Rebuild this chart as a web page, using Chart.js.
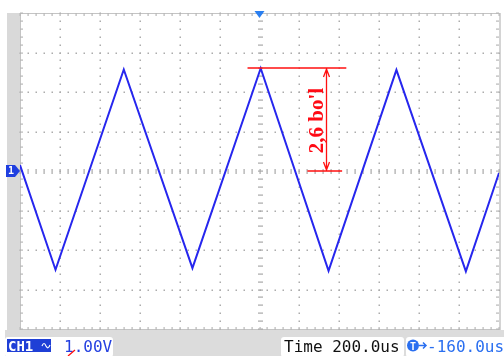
<!DOCTYPE html>
<html>
<head>
<meta charset="utf-8">
<script src="https://cdn.jsdelivr.net/npm/chart.js@4/dist/chart.umd.min.js"></script>
<style>
  html, body { margin: 0; padding: 0; background: #ffffff; }
  canvas { display: block; }
</style>
</head>
<body>
<canvas id="scope" width="504" height="356"></canvas>
<script>
// Triangle wave on CH1: vertices of the trace (time in µs, relative to screen centre; volts)
const timeUs = [-1200, -1022, -680, -336, 6, 346, 686, 1034, 1200];
const volts  = [0.15, -2.50, 2.57, -2.46, 2.6, -2.53, 2.56, -2.54, -0.05];

// Screen settings
const usPerDiv = 200;
const voltPerDiv = 1;
const divsX = 12;
const divsY = 8;

// Measured amplitude (in divisions) marked on the screen
const amplitudeDivs = 2.6;
const amplitudeLabel = "2,6 bo'l";

// Readout texts in the status bar
const chLabel = 'CH1';
const voltLabel = '1.00V';
const timeLabel = 'Time 200.0us';
const trigLabel = '-160.0us';

const points = timeUs.map((t, i) => ({ x: t, y: volts[i] }));

const halfX = divsX / 2 * usPerDiv;
const halfY = divsY / 2 * voltPerDiv;

const MONO = '"DejaVu Sans Mono", "Liberation Mono", monospace';

function roundRect(ctx, x, y, w, h, r) {
  ctx.beginPath();
  ctx.moveTo(x + r, y);
  ctx.lineTo(x + w - r, y);
  ctx.quadraticCurveTo(x + w, y, x + w, y + r);
  ctx.lineTo(x + w, y + h - r);
  ctx.quadraticCurveTo(x + w, y + h, x + w - r, y + h);
  ctx.lineTo(x + r, y + h);
  ctx.quadraticCurveTo(x, y + h, x, y + h - r);
  ctx.lineTo(x, y + r);
  ctx.quadraticCurveTo(x, y, x + r, y);
  ctx.closePath();
}

// Frame, graticule and status bar drawn under the trace
const graticule = {
  id: 'graticule',
  beforeDatasetsDraw(chart) {
    const ctx = chart.ctx;
    const xs = chart.scales.x, ys = chart.scales.y;
    const a = chart.chartArea;
    ctx.save();

    ctx.fillStyle = '#ffffff';
    ctx.fillRect(0, 0, chart.width, chart.height);

    // left grey strip and bottom status band
    ctx.fillStyle = '#d9d9d9';
    ctx.fillRect(7, a.top, a.left - 7, a.bottom - a.top + 1);
    ctx.fillStyle = '#dcdcdc';
    ctx.fillRect(5, a.bottom + 1, chart.width - 5, chart.height - a.bottom);
    // right edge strip
    ctx.fillStyle = '#d4d4d4';
    ctx.fillRect(a.right, a.top, 2, a.bottom - a.top + 1);

    // border lines
    ctx.strokeStyle = '#c4c4c4';
    ctx.lineWidth = 1;
    ctx.beginPath();
    ctx.moveTo(a.left, Math.round(a.top) + 0.5); ctx.lineTo(a.right, Math.round(a.top) + 0.5);
    ctx.moveTo(a.left, Math.round(a.bottom) + 0.5); ctx.lineTo(a.right, Math.round(a.bottom) + 0.5);
    ctx.moveTo(Math.round(a.left) + 0.5, a.top); ctx.lineTo(Math.round(a.left) + 0.5, a.bottom);
    ctx.stroke();

    const minorX = usPerDiv / 5, minorY = voltPerDiv / 5;

    // dotted grid lines
    ctx.fillStyle = '#acacac';
    for (let i = -divsX / 2 + 1; i < divsX / 2; i++) {
      if (i === 0) continue;
      const x = Math.round(xs.getPixelForValue(i * usPerDiv));
      for (let j = -divsY * 5 / 2; j <= divsY * 5 / 2; j++) {
        const y = Math.round(ys.getPixelForValue(j * minorY));
        ctx.fillRect(x - 0.5, y - 0.5, 1.5, 1.5);
      }
    }
    for (let j = -divsY / 2 + 1; j < divsY / 2; j++) {
      if (j === 0) continue;
      const y = Math.round(ys.getPixelForValue(j * voltPerDiv));
      for (let k = -divsX * 5 / 2; k <= divsX * 5 / 2; k++) {
        const x = Math.round(xs.getPixelForValue(k * minorX));
        ctx.fillRect(x - 0.5, y - 0.5, 1.5, 1.5);
      }
    }

    // centre crosshair with minor ticks
    ctx.fillStyle = '#a8a8a8';
    const cx = Math.round(xs.getPixelForValue(0));
    const cy = Math.round(ys.getPixelForValue(0));
    for (let j = -divsY * 5 / 2; j <= divsY * 5 / 2; j++) {
      const y = Math.round(ys.getPixelForValue(j * minorY));
      ctx.fillRect(cx - 2, y - 0.5, 5, 1.2);
    }
    for (let k = -divsX * 5 / 2; k <= divsX * 5 / 2; k++) {
      const x = Math.round(xs.getPixelForValue(k * minorX));
      ctx.fillRect(x - 0.5, cy - 2, 1.2, 5);
    }

    // ticks along the frame
    ctx.fillStyle = '#b8b8b8';
    for (let k = -divsX * 5 / 2; k <= divsX * 5 / 2; k++) {
      const x = Math.round(xs.getPixelForValue(k * minorX));
      ctx.fillRect(x - 0.5, a.top, 1.2, 3);
      ctx.fillRect(x - 0.5, a.bottom - 2, 1.2, 3);
    }
    for (let j = -divsY * 5 / 2; j <= divsY * 5 / 2; j++) {
      const y = Math.round(ys.getPixelForValue(j * minorY));
      ctx.fillRect(a.left, y - 0.5, 3, 1.2);
      ctx.fillRect(a.right - 3, y - 0.5, 3, 1.2);
    }

    // status bar boxes
    ctx.fillStyle = '#ffffff';
    roundRect(ctx, 5, 337, 108, 20, 3); ctx.fill();
    roundRect(ctx, 281, 337, 123, 20, 3); ctx.fill();
    roundRect(ctx, 406, 337, 100, 20, 3); ctx.fill();

    // CH1 badge
    ctx.fillStyle = '#1f3fd6';
    ctx.fillRect(7, 339, 44, 13);
    ctx.fillStyle = '#ffffff';
    ctx.font = 'bold 14px ' + MONO;
    ctx.textBaseline = 'alphabetic';
    ctx.textAlign = 'left';
    ctx.fillText(chLabel, 8, 351);
    ctx.strokeStyle = '#ffffff';
    ctx.lineWidth = 1.2;
    ctx.beginPath();
    ctx.moveTo(42, 346);
    ctx.quadraticCurveTo(44, 341, 46, 346);
    ctx.quadraticCurveTo(48, 350, 50, 345);
    ctx.stroke();

    ctx.fillStyle = '#2440e0';
    ctx.font = '16px ' + MONO;
    ctx.fillText(voltLabel, 64, 352);

    ctx.fillStyle = '#111111';
    ctx.fillText(timeLabel, 284, 352);

    // trigger readout
    ctx.fillStyle = '#2a6ff0';
    ctx.beginPath();
    ctx.arc(413, 345.5, 6, 0, Math.PI * 2);
    ctx.fill();
    ctx.fillStyle = '#ffffff';
    ctx.font = 'bold 10px ' + MONO;
    ctx.textAlign = 'center';
    ctx.fillText('T', 413, 349.5);
    ctx.strokeStyle = '#2a6ff0';
    ctx.lineWidth = 1.5;
    ctx.beginPath();
    ctx.moveTo(419, 345.5); ctx.lineTo(426, 345.5);
    ctx.moveTo(423, 342.5); ctx.lineTo(426, 345.5); ctx.lineTo(423, 348.5);
    ctx.stroke();
    ctx.fillStyle = '#2a6ff0';
    ctx.font = '16px ' + MONO;
    ctx.textAlign = 'left';
    ctx.fillText(trigLabel, 427, 352);

    ctx.restore();
  },
  afterDatasetsDraw(chart) {
    const ctx = chart.ctx;
    const xs = chart.scales.x, ys = chart.scales.y;
    const a = chart.chartArea;
    ctx.save();

    // trigger position marker on top
    const tx = xs.getPixelForValue(0);
    ctx.fillStyle = '#2a7ff0';
    ctx.beginPath();
    ctx.moveTo(tx - 5, a.top - 2);
    ctx.lineTo(tx + 5, a.top - 2);
    ctx.lineTo(tx, a.top + 5);
    ctx.closePath();
    ctx.fill();

    // channel ground marker on the left
    const gy = ys.getPixelForValue(0);
    ctx.fillStyle = '#1f3fe0';
    ctx.beginPath();
    ctx.moveTo(6, gy - 6);
    ctx.lineTo(15, gy - 6);
    ctx.lineTo(20, gy);
    ctx.lineTo(15, gy + 6);
    ctx.lineTo(6, gy + 6);
    ctx.closePath();
    ctx.fill();
    ctx.fillStyle = '#ffffff';
    ctx.font = 'bold 10px ' + MONO;
    ctx.textAlign = 'center';
    ctx.textBaseline = 'middle';
    ctx.fillText('1', 11, gy + 0.5);

    // amplitude measurement
    const yTop = Math.round(ys.getPixelForValue(amplitudeDivs * voltPerDiv));
    const yZero = Math.round(ys.getPixelForValue(0));
    ctx.strokeStyle = '#ff1010';
    ctx.lineWidth = 1.3;
    ctx.beginPath();
    ctx.moveTo(xs.getPixelForValue(-60), yTop);
    ctx.lineTo(xs.getPixelForValue(435), yTop);
    ctx.moveTo(xs.getPixelForValue(240), yZero);
    ctx.lineTo(xs.getPixelForValue(414), yZero);
    const ax = Math.round(xs.getPixelForValue(332)) + 0.5;
    ctx.moveTo(ax, yTop + 1);
    ctx.lineTo(ax, yZero - 1);
    ctx.moveTo(ax - 3, yTop + 9); ctx.lineTo(ax, yTop + 1); ctx.lineTo(ax + 3, yTop + 9);
    ctx.moveTo(ax - 3, yZero - 9); ctx.lineTo(ax, yZero - 1); ctx.lineTo(ax + 3, yZero - 9);
    // small stray stroke near the status bar
    ctx.moveTo(68, 356); ctx.lineTo(75, 350);
    ctx.stroke();

    ctx.fillStyle = '#ff0a14';
    ctx.font = 'bold 21px "Liberation Serif", "DejaVu Serif", serif';
    ctx.textAlign = 'center';
    ctx.textBaseline = 'middle';
    ctx.translate(xs.getPixelForValue(292), (yTop + yZero) / 2 + 1);
    ctx.rotate(-Math.PI / 2);
    ctx.fillText(amplitudeLabel, 0, 0);

    ctx.restore();
  }
};

new Chart(document.getElementById('scope'), {
  type: 'line',
  data: {
    datasets: [{
      data: points,
      borderColor: '#2626ee',
      borderWidth: 2,
      pointRadius: 0,
      tension: 0,
      fill: false
    }]
  },
  options: {
    responsive: false,
    animation: false,
    devicePixelRatio: 1,
    layout: { padding: { left: 20, right: 5, top: 13, bottom: 27 } },
    plugins: { legend: { display: false }, tooltip: { enabled: false } },
    scales: {
      x: { type: 'linear', min: -halfX, max: halfX, display: false },
      y: { type: 'linear', min: -halfY, max: halfY, display: false }
    }
  },
  plugins: [graticule]
});
</script>
</body>
</html>
